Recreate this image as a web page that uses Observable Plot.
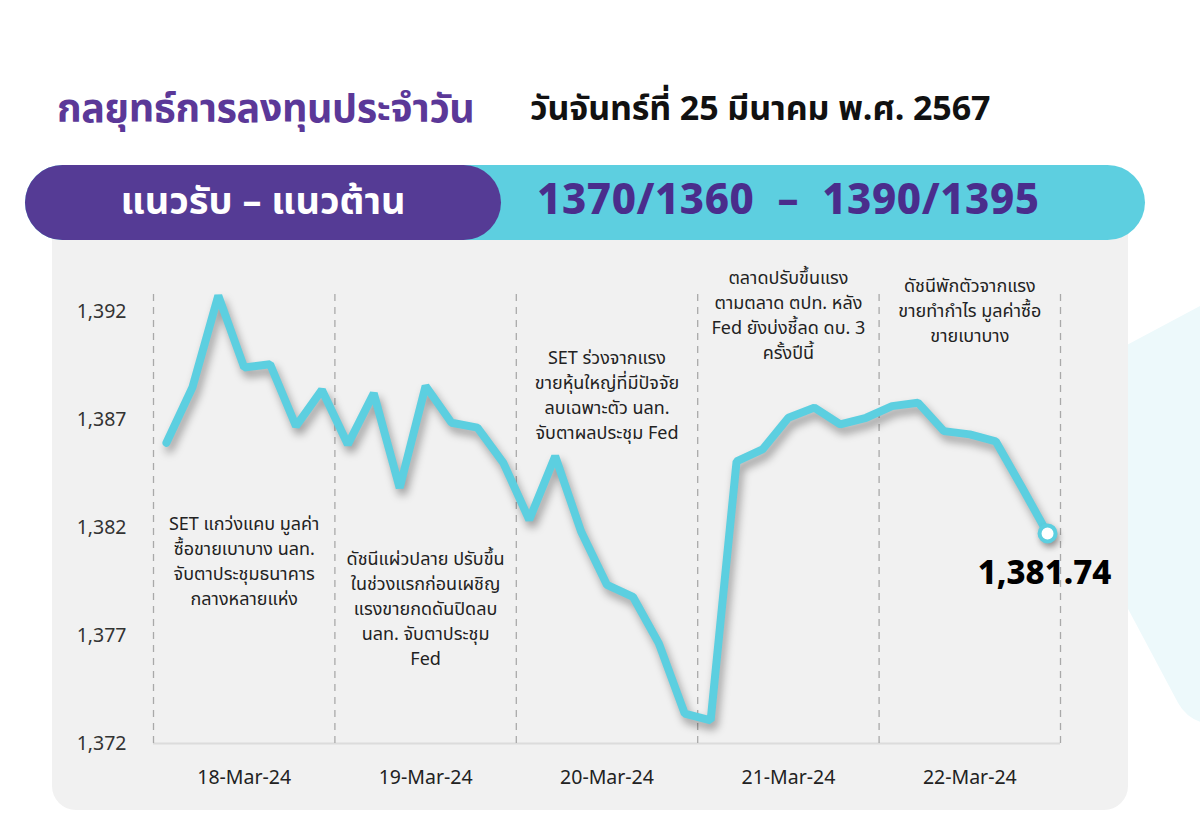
<!DOCTYPE html>
<html>
<head>
<meta charset="utf-8">
<script src="https://cdn.jsdelivr.net/npm/d3@7"></script>
<script src="https://cdn.jsdelivr.net/npm/@observablehq/plot@0.6"></script>
<style>
  html, body { margin: 0; padding: 0; background: #ffffff; }
  body { width: 1200px; height: 836px; position: relative; overflow: hidden;
         font-family: "Noto Sans Thai", "Noto Sans", "DejaVu Sans", sans-serif; }
  .abs { position: absolute; }
  #deco { left: 1090px; top: 310px; width: 300px; height: 380px; background: #edf9fb;
          transform: rotate(-28deg); border-radius: 40px; }
  #title { left: 57px; top: 80px; font-size: 39.5px; font-weight: 700; color: #5b3898; white-space: nowrap; letter-spacing: -0.4px; }
  #date { left: 530px; top: 84px; font-size: 34px; font-weight: 700; color: #111; white-space: nowrap; letter-spacing: -0.1px; }
  #panel { left: 52px; top: 232px; width: 1076px; height: 578px; background: #f1f1f1;
           border-radius: 0 0 24px 24px; }
  #banner { left: 25px; top: 165px; width: 1120px; height: 75px; background: #5dcfe0; border-radius: 38px; }
  #pill { left: 25px; top: 165px; width: 476px; height: 75px; background: #553b95; border-radius: 38px;
          display: flex; align-items: center; justify-content: center;
          font-size: 38px; font-weight: 700; color: #fff; white-space: nowrap; }
  #range { left: 537px; top: 163px; height: 75px; display: flex; align-items: center;
           font-size: 42px; font-weight: 800; color: #4a2d8c; white-space: nowrap; letter-spacing: 0.6px; }
  #chart { left: 52px; top: 240px; }
</style>
</head>
<body>
<div id="deco" class="abs"></div>
<div id="title" class="abs">กลยุทธ์การลงทุนประจำวัน</div>
<div id="date" class="abs">วันจันทร์ที่ 25 มีนาคม พ.ศ. 2567</div>
<div id="panel" class="abs"></div>
<div id="banner" class="abs"></div>
<div id="pill" class="abs">แนวรับ – แนวต้าน</div>
<div id="range" class="abs">1370/1360&nbsp; – &nbsp;1390/1395</div>
<div id="chart" class="abs"></div>
<script>
// ---- data ----
const days = ["18-Mar-24", "19-Mar-24", "20-Mar-24", "21-Mar-24", "22-Mar-24"];
const pointsPerDay = 7;
const setIndex = [
  1385.94, 1388.50, 1392.76, 1389.43, 1389.58, 1386.71, 1388.39,
  1385.86, 1388.23, 1383.85, 1388.57, 1386.87, 1386.64, 1385.01,
  1382.37, 1385.32, 1381.83, 1379.35, 1378.80, 1376.64, 1373.38,
  1373.07, 1385.08, 1385.63, 1387.10, 1387.57, 1386.79, 1387.10,
  1387.64, 1387.80, 1386.48, 1386.33, 1386.01, 1383.90, 1381.74
];
const yTicks = [1372, 1377, 1382, 1387, 1392];
const notes = [
  "SET แกว่งแคบ มูลค่า\nซื้อขายเบาบาง นลท.\nจับตาประชุมธนาคาร\nกลางหลายแห่ง",
  "ดัชนีแผ่วปลาย ปรับขึ้น\nในช่วงแรกก่อนเผชิญ\nแรงขายกดดันปิดลบ\nนลท. จับตาประชุม\nFed",
  "SET ร่วงจากแรง\nขายหุ้นใหญ่ที่มีปัจจัย\nลบเฉพาะตัว นลท.\nจับตาผลประชุม Fed",
  "ตลาดปรับขึ้นแรง\nตามตลาด ตปท. หลัง\nFed ยังบ่งชี้ลด ดบ. 3\nครั้งปีนี้",
  "ดัชนีพักตัวจากแรง\nขายทำกำไร มูลค่าซื้อ\nขายเบาบาง"
];
const noteTop = [1382.72, 1381.09, 1390.40, 1394.12, 1393.74];
const lastLabel = "1,381.74";

// ---- derived tables ----
const series = setIndex.map((v, i) => ({x: i + 0.5, y: v}));
const bounds = d3.range(days.length + 1).map(d => d * pointsPerDay);
const centers = days.map((d, i) => i * pointsPerDay + pointsPerDay / 2);
const noteData = notes.map((t, i) => ({x: centers[i], y: noteTop[i], t}));
const last = series[series.length - 1];

const cyan = "#5ccfe0";
const font = '"Noto Sans Thai", "Noto Sans", "DejaVu Sans", sans-serif';

const chart = Plot.plot({
  width: 1076,
  height: 570,
  marginLeft: 101,
  marginRight: 68,
  marginTop: 50,
  marginBottom: 67,
  style: {background: "transparent", fontFamily: font, overflow: "visible"},
  x: {domain: [0, days.length * pointsPerDay]},
  y: {domain: [1372, 1393]},
  marks: [
    Plot.ruleY([1372], {stroke: "#dcdcdc", strokeWidth: 2}),
    Plot.ruleX(bounds, {y1: 1372, y2: 1393, stroke: "#a9a9a9", strokeWidth: 1.3, strokeDasharray: "7,6"}),
    Plot.axisY({ticks: yTicks, tickFormat: d3.format(","), tickSize: 0, tickPadding: 27,
                fontSize: 19.5, color: "#333", label: null}),
    Plot.axisX({ticks: centers, tickFormat: (d, i) => days[i], tickSize: 0, tickPadding: 27,
                fontSize: 19.5, color: "#222", label: null}),
    Plot.text(noteData, {x: "x", y: "y", text: "t", lineAnchor: "top", lineHeight: 1.39,
                         fontSize: 18, fill: "#222"}),
    Plot.line(series, {x: "x", y: "y", stroke: cyan, strokeWidth: 8,
                       strokeLinejoin: "miter", strokeLinecap: "round"}),
    Plot.dot([last], {x: "x", y: "y", r: 8, fill: "#ffffff", stroke: cyan, strokeWidth: 4}),
    Plot.text([last], {x: "x", y: "y", text: () => lastLabel, dy: 40, dx: -3,
                       fontSize: 33, fontWeight: 800, fill: "#000"})
  ]
});
document.getElementById("chart").appendChild(chart);
const lp = chart.querySelector('[aria-label="line"] path');
if (lp) lp.style.filter = "drop-shadow(3px 6px 4px rgba(0,0,0,0.35))";
const dp = chart.querySelector('[aria-label="dot"] circle');
if (dp) dp.style.filter = "drop-shadow(2px 4px 3px rgba(0,0,0,0.3))";
</script>
</body>
</html>
